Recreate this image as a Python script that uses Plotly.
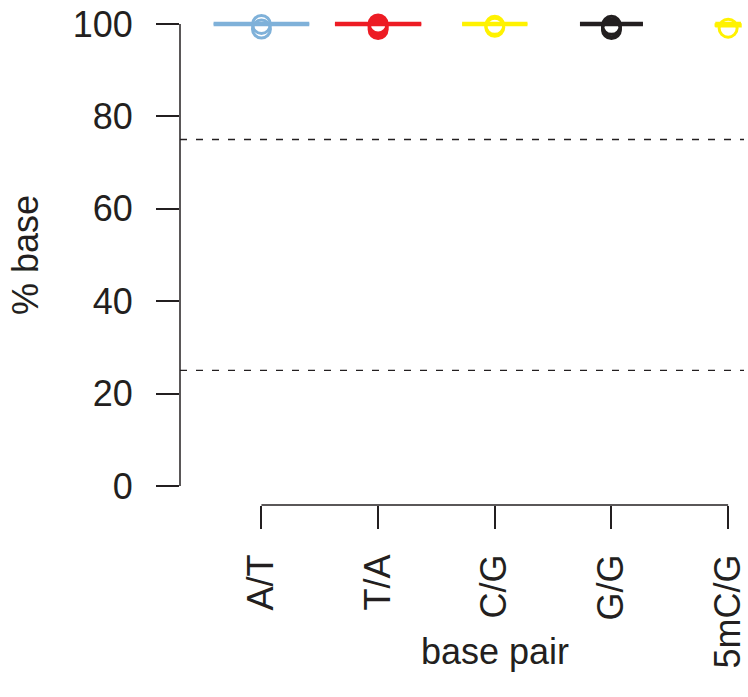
import plotly.graph_objects as go

# ---- data ----
categories = ["A/T", "T/A", "C/G", "G/G", "5mC/G"]
medians = [100, 100, 100, 100, 100]
q1 = [100, 100, 100, 100, 99.4]
q3 = [100, 100, 100, 100, 100]
outliers = [
    [99.9, 98.9],
    [100.0, 99.6, 99.2, 98.8],
    [99.7, 99.3],
    [99.7, 99.2, 98.8],
    [99.1],
]
reference_levels = [25, 75]
y_ticks = [0, 20, 40, 60, 80, 100]

# ---- styles ----
colors = ["#7fb1d9", "#ed1c24", "#fff200", "#231f20", "#fff200"]
box_widths = [0.82, 0.74, 0.56, 0.54, 0.22]
ink = "#231f20"
FONT = "Liberation Sans, Arial, Helvetica, sans-serif"
FS = 36

fig = go.Figure()
positions = list(range(1, len(categories) + 1))

for i, cat in enumerate(categories):
    x0 = positions[i] - box_widths[i] / 2
    x1 = positions[i] + box_widths[i] / 2
    # box body
    fig.add_trace(go.Scatter(
        x=[x0, x1, x1, x0, x0], y=[q1[i], q1[i], q3[i], q3[i], q1[i]],
        mode="lines", fill="toself", fillcolor=colors[i],
        line=dict(color=colors[i], width=1.5), hoverinfo="skip",
        showlegend=False, cliponaxis=False))
    # median
    fig.add_trace(go.Scatter(
        x=[x0, x1], y=[medians[i], medians[i]], mode="lines",
        line=dict(color=colors[i], width=4.5), showlegend=False,
        cliponaxis=False, name=cat))
    # outliers
    fig.add_trace(go.Scatter(
        x=[positions[i]] * len(outliers[i]), y=outliers[i], mode="markers",
        marker=dict(symbol="circle-open", size=18, color=colors[i],
                    line=dict(width=3, color=colors[i])),
        showlegend=False, cliponaxis=False, name=cat))

shapes = []
for lvl in reference_levels:
    shapes.append(dict(type="line", xref="paper", x0=0, x1=1, yref="y", y0=lvl, y1=lvl,
                       line=dict(color=ink, width=1.3, dash="7px,9px"), layer="below"))
# R-style axis lines spanning only tick range
shapes.append(dict(type="line", xref="paper", x0=0, x1=0, yref="y", y0=y_ticks[0], y1=y_ticks[-1],
                   line=dict(color=ink, width=1.5)))
shapes.append(dict(type="line", xref="x", x0=positions[0], x1=positions[-1], yref="paper", y0=0, y1=0,
                   line=dict(color=ink, width=1.5)))

annotations = [
    dict(text="% base", xref="paper", x=-0.273, yref="y", y=50, textangle=-90,
         showarrow=False, xanchor="center", yanchor="middle",
         font=dict(family=FONT, size=FS, color=ink)),
    dict(text="base pair", xref="x", x=3, yref="paper", y=-0.292,
         showarrow=False, xanchor="center", yanchor="middle",
         font=dict(family=FONT, size=FS, color=ink)),
]

fig.update_layout(
    width=748, height=697,
    margin=dict(l=180, r=0, t=5, b=192, pad=0),
    paper_bgcolor="white", plot_bgcolor="white",
    shapes=shapes, annotations=annotations,
    xaxis=dict(range=[0.302, 5.136], tickvals=positions, ticktext=categories,
               tickangle=-90, ticks="outside", ticklen=23, tickwidth=1.5, tickcolor=ink,
               showline=False, showgrid=False, zeroline=False, ticklabeloverflow="allow",
               tickfont=dict(family=FONT, size=FS, color=ink), ticklabelstandoff=11),
    yaxis=dict(range=[-4.12, 104.11], tickvals=y_ticks, ticks="outside", ticklen=23,
               tickwidth=1.5, tickcolor=ink, showline=False, showgrid=False, zeroline=False,
               ticklabeloverflow="allow",
               tickfont=dict(family=FONT, size=FS, color=ink), ticklabelstandoff=16),
)

fig.write_html("out.html", config={"displayModeBar": False},
               post_script="document.body.style.margin='0';document.body.style.overflow='hidden';")
